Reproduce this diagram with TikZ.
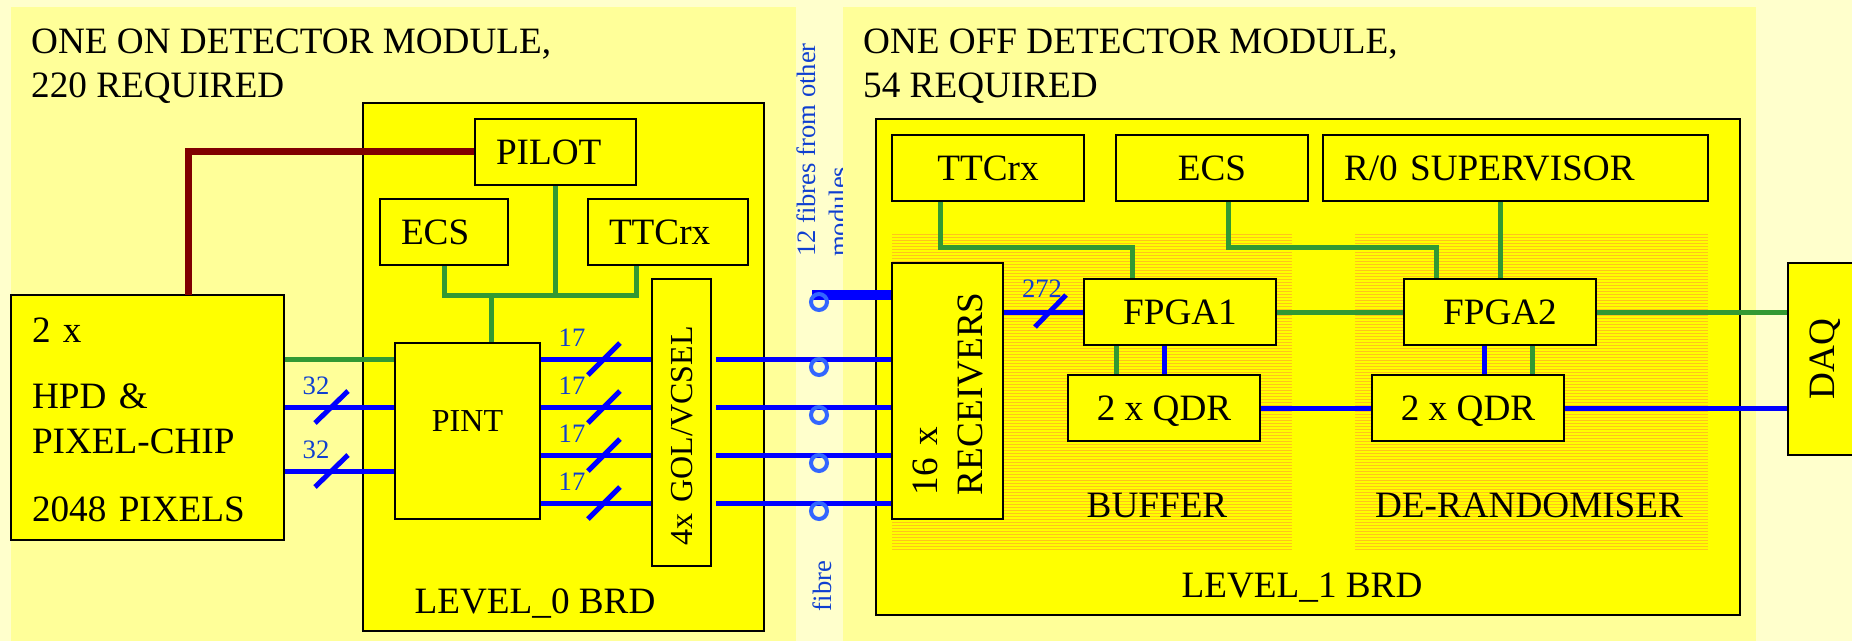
\documentclass[tikz,border=0pt]{standalone}
\usepackage{fontspec}
\setmainfont{Liberation Serif}
\definecolor{paleback}{HTML}{FFFFCC}
\definecolor{panelback}{HTML}{FFFF99}
\definecolor{brdyellow}{HTML}{FFFF00}
\definecolor{hatchorange}{HTML}{FFC41A}
\definecolor{ctrlgreen}{HTML}{339933}
\definecolor{pilotred}{HTML}{800000}
\definecolor{fibreblue}{HTML}{3366FF}
\definecolor{notetext}{HTML}{0F3FD0}
\tikzset{
    brd/.style={draw=black, line width=1.5pt, fill=brdyellow, inner sep=0pt},
    blk/.style={brd, font=\fontsize{37.2}{45}\selectfont, text height=25pt, text depth=0pt},
    blkl/.style={blk, inner xsep=21pt, align=left, text width=#1},
    title/.style={font=\fontsize{37.2}{43.5}\selectfont, inner sep=0pt, align=left},
    note/.style={font=\fontsize{26.6}{32}\selectfont, text=notetext, inner sep=0pt},
    ctrl/.style={ctrlgreen, line width=5pt},
    data/.style={blue, line width=5pt},
    fibre/.style={circle, draw=fibreblue, line width=4pt, minimum size=16pt, inner sep=0pt}
}
\begin{document}
\begin{tikzpicture}[x=1pt, y=-1pt]
\useasboundingbox (0,0) rectangle (1852,641);

%fond

\fill[paleback] (0,0) rectangle (1852,641);
\fill[panelback] (11,7) rectangle (796,641);

%fibres (the right panel hides the end of the note)

\node[note, rotate=90, anchor=base west, align=left] (fibrenote) at (847,257) {12 fibres from other\\modules};
\fill[panelback] (843,7) rectangle (1756,641);

\node[title, anchor=north west] (titleon) at (31,29) {ONE ON DETECTOR MODULE,\\220 REQUIRED};
\node[title, anchor=north west] (titleoff) at (863,29) {ONE OFF DETECTOR MODULE,\\54 REQUIRED};

%level 0

\node[brd, minimum width=401pt, minimum height=528pt] (brdzero) at (563.5,367) {};
\node[blkl=119pt, minimum height=66pt] (pilot) at (555.5,152) {PILOT};
\node[blkl=86pt, minimum height=66pt] (ecszero) at (444,232) {ECS};
\node[blkl=118pt, minimum height=66pt] (ttczero) at (668,232) {TTCrx};
\node[blk, minimum width=145pt, minimum height=176pt, font=\fontsize{32}{38}\selectfont, text height=20pt, text depth=20pt] (pint) at (467.5,431) {PINT};
\node[blkl=245pt, rotate=90, minimum height=59pt, font=\fontsize{32}{38}\selectfont, text height=21pt] (gol) at (681.5,422.5) {4x GOL/VCSEL};
\node[title, anchor=base] (lblzero) at (535,613) {LEVEL\_0 BRD};

\node[brd, minimum width=273pt, minimum height=245pt, font=\fontsize{37.2}{45}\selectfont, inner xsep=21pt, text width=231pt, align=left] (hpd) at (147.5,417.5) {\rule{0pt}{30pt}2 x\\[21pt]HPD \&\\PIXEL-CHIP\\[23pt]2048 PIXELS};

%level 1

\node[brd, minimum width=864pt, minimum height=496pt] (brdone) at (1308,367) {};
\foreach \x/\w in {892/400,1355/353}
    \foreach \y in {234,237,...,549}
        \draw[hatchorange, line width=0.8pt] (\x,\y)--++(\w,0);
\node[blk, minimum width=192pt, minimum height=66pt] (ttcone) at (988,168) {TTCrx};
\node[blk, minimum width=192pt, minimum height=66pt] (ecsone) at (1212,168) {ECS};
\node[blkl=343pt, minimum height=66pt] (supervisor) at (1515.5,168) {R/0 SUPERVISOR};
\node[blk, minimum width=192pt, minimum height=66pt] (fpgaone) at (1180,312) {FPGA1};
\node[blk, minimum width=192pt, minimum height=66pt] (fpgatwo) at (1500,312) {FPGA2};
\node[blk, minimum width=192pt, minimum height=66pt] (qdrone) at (1164,408) {2 x QDR};
\node[blk, minimum width=192pt, minimum height=66pt] (qdrtwo) at (1468,408) {2 x QDR};
\node[brd, rotate=90, minimum width=256pt, minimum height=111pt, font=\fontsize{37.2}{45}\selectfont, inner xsep=24pt, text width=208pt, align=left] (receivers) at (947.5,391) {16 x\\RECEIVERS};
\node[brd, rotate=90, minimum width=192pt, minimum height=67pt, font=\fontsize{37.2}{45}\selectfont, text height=25pt, text depth=0pt] (daq) at (1821.5,359) {DAQ};
\node[title, anchor=base] (lblbuffer) at (1157,517) {BUFFER};
\node[title, anchor=base] (lblderand) at (1529,517) {DE-RANDOMISER};
\node[title, anchor=base] (lblone) at (1302,597) {LEVEL\_1 BRD};

%liaisons de controle

\draw[pilotred, line width=7pt] (pilot.west |- 0,151) -| (188,295);
\coordinate (bus) at (491,295);
\draw[ctrl] (ecszero.south -| 444,0) |- (bus) -| (ttczero.south -| 636,0);
\draw[ctrl] (pilot.south) -- (pilot.south |- bus);
\draw[ctrl] (bus) -- (bus |- pint.north);
\draw[ctrl] (hpd.east |- 0,359) -- (pint.west |- 0,359);
\draw[ctrl] (ttcone.south -| 940,0) |- (1132,247) -- (fpgaone.north -| 1132,0);
\draw[ctrl] (ecsone.south -| 1228,0) |- (1436,247) -- (fpgatwo.north -| 1436,0);
\draw[ctrl] (supervisor.south -| fpgatwo.north) -- (fpgatwo.north);
\draw[ctrl] (fpgaone.east) -- (fpgatwo.west);
\draw[ctrl] (fpgatwo.east) -- (daq.north |- fpgatwo.east);
\draw[ctrl] (fpgaone.south -| 1116,0) -- (qdrone.north -| 1116,0);
\draw[ctrl] (fpgatwo.south -| 1532,0) -- (qdrtwo.north -| 1532,0);

%liaisons de donnees

\foreach \y/\n in {407/a,471/b}{
    \draw[data] (hpd.east |- 0,\y) -- (pint.west |- 0,\y);
    \draw[data] (315,\y+16)--(348,\y-16);
    \node[note] (wide\n) at (316,\y-21) {32};
}
\foreach \y/\n in {359/a,407/b,455/c,503/d}{
    \draw[data] (pint.east |- 0,\y) -- (gol.north |- 0,\y);
    \draw[data] (588,\y+16)--(620,\y-16);
    \node[note] (link\n) at (572,\y-21) {17};
    \draw[data] (716,\y) -- (receivers.north |- 0,\y);
    \node[fibre] (fibre\n) at (819,\y+8) {};
}
\draw[blue, line width=10pt] (812,295) -- (receivers.north |- 0,295);
\node[fibre] (fibretop) at (819,302) {};
\node[note, rotate=90] (fibrelbl) at (822,586) {fibre};

\draw[data] (receivers.south |- fpgaone.west) -- (fpgaone.west);
\draw[data] (1035,327)--(1066,295);
\node[note] (bigbus) at (1042,289) {272};
\draw[data] (qdrone.east) -- (qdrtwo.west);
\draw[data] (qdrtwo.east) -- (daq.north |- qdrtwo.east);
\draw[data] (fpgaone.south -| qdrone.north) -- (qdrone.north);
\draw[data] (fpgatwo.south -| 1484,0) -- (qdrtwo.north -| 1484,0);
\end{tikzpicture}
\end{document}
